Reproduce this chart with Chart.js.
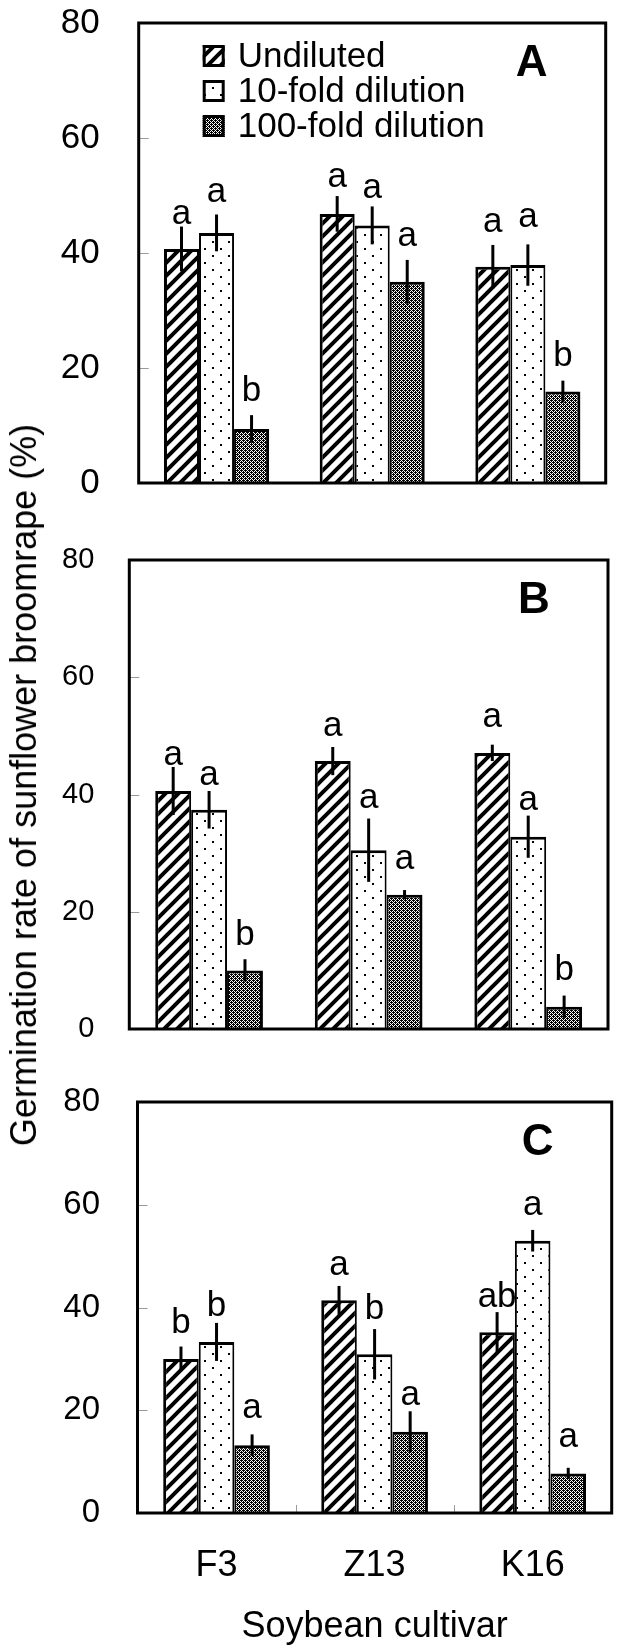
<!DOCTYPE html>
<html>
<head>
<meta charset="utf-8">
<script src="https://cdn.jsdelivr.net/npm/chart.js@4.4.1/dist/chart.umd.min.js"></script>
<style>
  body { margin: 0; background: #fff; }
  #page { position: relative; width: 622px; height: 1652px; overflow: hidden; font-family: 'Liberation Sans', Arial, sans-serif; }
  canvas { position: absolute; left: 0; }
  #ytitle {
    position: absolute; left: 24px; top: 785px;
    transform: translate(-50%, -50%) rotate(-90deg);
    font-size: 36px; line-height: 36px; white-space: nowrap; color: #000;
  }
</style>
</head>
<body>
<div id="page">
  <canvas id="chartA" width="622" height="510" style="top:0px"></canvas>
  <canvas id="chartB" width="622" height="530" style="top:530px"></canvas>
  <canvas id="chartC" width="622" height="582" style="top:1070px"></canvas>
  <div id="ytitle">Germination rate of sunflower broomrape (%)</div>
</div>
<script>
// datos
const cultivars = ['F3', 'Z13', 'K16'];
const treatments = ['Undiluted', '10-fold dilution', '100-fold dilution'];

// Panel A: medias, error y letras por tratamiento
const meanA = [[40.7, 46.8, 37.6], [43.5, 44.8, 37.9], [9.4, 35.0, 15.9]];
const errA = [[3.9, 3.1, 3.8], [3.2, 3.3, 3.6], [2.4, 3.8, 1.9]];
const letterA = [['a', 'a', 'a'], ['a', 'a', 'a'], ['b', 'a', 'b']];
const letterAtA = [[45.1, 51.5, 43.6], [48.9, 49.5, 44.5], [14.3, 41.3, 20.4]];

// Panel B
const meanB = [[40.6, 45.7, 47.1], [37.4, 30.5, 32.8], [10.0, 22.9, 3.8]];
const errB = [[4.1, 2.4, 1.4], [3.2, 5.4, 3.6], [1.9, 0.8, 1.9]];
const letterB = [['a', 'a', 'a'], ['a', 'a', 'a'], ['b', 'a', 'b']];
const letterAtB = [[45.1, 50.0, 51.5], [41.7, 37.7, 37.4], [14.4, 27.3, 8.3]];

// Panel C
const meanC = [[30.0, 41.4, 35.2], [33.3, 30.9, 53.0], [13.2, 15.8, 7.7]];
const errC = [[2.4, 2.8, 3.9], [3.7, 4.9, 2.1], [2.1, 4.0, 1.1]];
const letterC = [['b', 'a', 'ab'], ['b', 'b', 'a'], ['a', 'a', 'a']];
const letterAtC = [[35.0, 46.4, 40.1], [38.3, 37.7, 58.1], [18.4, 21.0, 12.9]];

const FONT = "'Liberation Sans', Arial, sans-serif";

// Patrones de relleno
const makePattern = (w, h, draw) => {
    const c = document.createElement('canvas');
    c.width = w; c.height = h;
    const g = c.getContext('2d');
    g.fillStyle = '#fff';
    g.fillRect(0, 0, w, h);
    draw(g);
    return document.createElement('canvas').getContext('2d').createPattern(c, 'repeat');
};

const stripes = () => makePattern(13, 13, g => {
    g.strokeStyle = '#000';
    g.lineWidth = 4;
    g.beginPath();
    g.moveTo(-3, 16); g.lineTo(16, -3);
    g.moveTo(-3, 3); g.lineTo(3, -3);
    g.moveTo(10, 16); g.lineTo(16, 10);
    g.stroke();
});

const dots = () => makePattern(16, 14, g => {
    g.fillStyle = '#000';
    g.fillRect(4, 3, 2, 2);
    g.fillRect(12, 10, 2, 2);
});

const dense = () => makePattern(4, 4, g => {
    g.fillStyle = '#000';
    for (let i = 0; i < 4; i++) {
        for (let j = 0; j < 4; j++) {
            if ((i + j) % 2 === 0) g.fillRect(i, j, 1, 1);
        }
    }
    g.fillRect(1, 2, 1, 1);
    g.fillRect(3, 0, 1, 1);
});

const fills = [stripes(), dots(), dense()];
const borders = [
    { left: 3, right: 2, top: 3, bottom: 0 },
    { left: 2, right: 2, top: 3, bottom: 0 },
    { left: 2, right: 3, top: 3, bottom: 0 }
];

// Plugin: marco, barras de error, letras, etiqueta del panel y leyenda
const decor = {
    id: 'decor',
    afterDatasetsDraw(chart, args, opts) {
        const { ctx, chartArea: a, scales: { x, y } } = chart;
        ctx.save();

        // marcas grises interiores del eje y
        ctx.strokeStyle = '#9a9a9a';
        ctx.lineWidth = 1;
        [20, 40, 60].forEach(v => {
            const py = Math.round(y.getPixelForValue(v)) + 0.5;
            ctx.beginPath();
            ctx.moveTo(a.left, py);
            ctx.lineTo(a.left + 10, py);
            ctx.stroke();
        });
        if (opts.catTicks) {
            for (let i = 0; i < cultivars.length - 1; i++) {
                const px = Math.round((x.getPixelForValue(i) + x.getPixelForValue(i + 1)) / 2) + 0.5;
                ctx.beginPath();
                ctx.moveTo(px, a.bottom);
                ctx.lineTo(px, a.bottom - 8);
                ctx.stroke();
            }
        }

        // barras de error y letras
        chart.data.datasets.forEach((ds, i) => {
            const meta = chart.getDatasetMeta(i);
            meta.data.forEach((bar, j) => {
                const v = ds.data[j], e = ds.errors[j];
                ctx.strokeStyle = '#000';
                ctx.lineWidth = 3;
                ctx.beginPath();
                ctx.moveTo(bar.x, y.getPixelForValue(v + e));
                ctx.lineTo(bar.x, y.getPixelForValue(v - e));
                ctx.stroke();

                ctx.fillStyle = '#000';
                ctx.font = opts.letterSize + 'px ' + FONT;
                ctx.textAlign = 'center';
                ctx.textBaseline = 'alphabetic';
                ctx.fillText(ds.letters[j], bar.x, y.getPixelForValue(ds.letterAt[j]));
            });
        });

        // marco
        ctx.strokeStyle = '#000';
        ctx.lineWidth = 3;
        ctx.strokeRect(a.left, a.top, a.right - a.left, a.bottom - a.top);

        // etiqueta del panel
        ctx.fillStyle = '#000';
        ctx.font = 'bold 44px ' + FONT;
        ctx.textAlign = 'center';
        ctx.textBaseline = 'middle';
        ctx.fillText(opts.tag, a.right - 74, a.top + 41);

        // leyenda
        if (opts.legend) {
            chart.data.datasets.forEach((ds, i) => {
                const cy = a.top + 33 + i * 35;
                const bx = a.left + 64;
                ctx.fillStyle = ds.backgroundColor;
                ctx.fillRect(bx, cy - 11, 22, 22);
                ctx.strokeStyle = '#000';
                ctx.lineWidth = 3;
                ctx.strokeRect(bx + 1.5, cy - 9.5, 19, 19);
                ctx.fillStyle = '#000';
                ctx.font = '35px ' + FONT;
                ctx.textAlign = 'left';
                ctx.textBaseline = 'middle';
                ctx.fillText(ds.label, bx + 35, cy + 1);
            });
        }
        ctx.restore();
    }
};

const makeChart = (id, means, errs, letters, letterAt, p) => {
    const datasets = treatments.map((t, i) => ({
        label: t,
        data: means[i],
        errors: errs[i],
        letters: letters[i],
        letterAt: letterAt[i],
        backgroundColor: fills[i],
        borderColor: '#000',
        borderWidth: borders[i],
        borderSkipped: 'start',
        barPercentage: 1.0,
        categoryPercentage: 0.675
    }));

    return new Chart(document.getElementById(id), {
        type: 'bar',
        data: { labels: cultivars, datasets },
        plugins: [decor],
        options: {
            responsive: false,
            animation: false,
            events: [],
            layout: { padding: { left: 0, right: p.padRight, top: p.padTop, bottom: p.padBottom } },
            plugins: {
                legend: { display: false },
                tooltip: { enabled: false },
                decor: { tag: p.tag, legend: p.legend, letterSize: 35, catTicks: p.showX }
            },
            scales: {
                x: {
                    display: p.showX,
                    grid: { display: false, drawTicks: false },
                    border: { display: false },
                    ticks: { color: '#000', font: { family: FONT, size: 36 }, padding: 31 },
                    title: {
                        display: p.showX,
                        text: 'Soybean cultivar',
                        color: '#000',
                        font: { family: FONT, size: 36 },
                        padding: { top: 0, bottom: 3 }
                    },
                    afterFit: s => { if (p.showX) s.height = p.xHeight; }
                },
                y: {
                    min: 0,
                    max: 80,
                    // el hueco entre etiquetas y marco va en tickLength (no suma al padding vertical)
                    grid: { display: false, drawTicks: true, tickLength: p.tickGap },
                    border: { display: false },
                    ticks: { stepSize: 20, color: '#000', font: { family: FONT, size: p.tickSize }, padding: 0 },
                    afterFit: s => { s.width = p.axisWidth; }
                }
            }
        }
    });
};

makeChart('chartA', meanA, errA, letterA, letterAtA,
    { tag: 'A', legend: true, showX: false, padTop: 23, padBottom: 27, padRight: 16.3, axisWidth: 138.7, tickSize: 35, tickGap: 39 });
makeChart('chartB', meanB, errB, letterB, letterAtB,
    { tag: 'B', legend: false, showX: false, padTop: 30, padBottom: 31, padRight: 14, axisWidth: 129.3, tickSize: 29, tickGap: 35 });
makeChart('chartC', meanC, errC, letterC, letterAtC,
    { tag: 'C', legend: false, showX: true, xHeight: 139, padTop: 32, padBottom: 0, padRight: 10.3, axisWidth: 137.5, tickSize: 33, tickGap: 37.5 });
</script>
</body>
</html>
